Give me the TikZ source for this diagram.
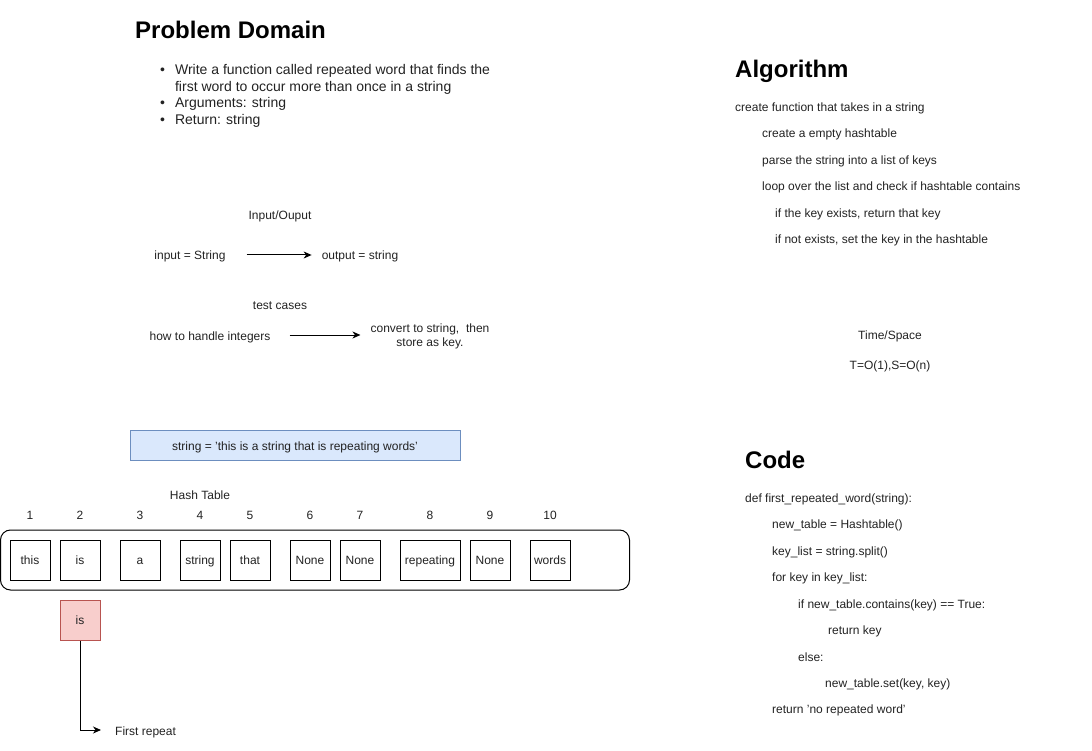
\documentclass[tikz,border=0pt]{standalone}
\usepackage{fontspec}
\setmainfont{Liberation Sans}
\usetikzlibrary{arrows.meta,positioning}
\definecolor{bluefill}{HTML}{DAE8FC}
\definecolor{blueline}{HTML}{6C8EBF}
\definecolor{redfill}{HTML}{F8CECC}
\definecolor{redline}{HTML}{B85450}
\definecolor{ink}{HTML}{222222}
\tikzset{
    txt/.style={font=\fontsize{12}{14}\selectfont, text=ink, inner sep=0pt, text height=13pt, text depth=3pt},
    head/.style={font=\bfseries\fontsize{24}{28}\selectfont, anchor=west, inner sep=0pt},
    line/.style={txt, anchor=west},
    cell/.style={draw, line width=1pt, minimum height=40pt, inner sep=0pt, text height=11pt, text depth=3pt,
        font=\fontsize{12}{14}\selectfont, text=ink},
    arr/.style={-{Stealth[length=8pt,width=7pt,inset=2.5pt]}, line width=1pt},
}
\begin{document}
\begin{tikzpicture}[x=1pt,y=-1pt]
    \useasboundingbox (0,0) rectangle (1092,751);

    \node[head] (pd) at (135,30) {Problem Domain};
    \node[anchor=north west, inner sep=0pt, text=ink, font=\fontsize{14}{16.5}\selectfont] (bul) at (160,63)
        {\begin{tabular}{@{}l@{\hspace{10pt}}l@{}}
        \textbullet & Write a function called repeated word that finds the\\
        & first word to occur more than once in a string\\
        \textbullet & Arguments: string\\
        \textbullet & Return: string
        \end{tabular}};

    \node[txt] (io) at (280,215) {Input/Ouput};
    \node[txt] (in) at (190,255) {input = String};
    \node[txt] (out) at (360,255) {output = string};
    \draw[arr, shorten <=21pt, shorten >=10pt] (in) -- (out);

    \node[txt] (tc) at (280,304) {test cases};
    \node[txt] (hi) at (210,335) {how to handle integers};
    \node[txt, align=center, text height=, text depth=] (cv) at (430,336) {convert to string,\ \ then\\store as key.};
    \draw[arr, shorten <=19pt, shorten >=10pt] (hi.east) -- (hi.east -| cv.west);

    \node[draw=blueline, fill=bluefill, line width=1pt, minimum width=330pt, minimum height=30pt, txt] (str) at (295,445)
        {string = 'this is a string that is repeating words'};

    \node[txt] (ht) at (200,494) {Hash Table};
    \node[draw, line width=1pt, rounded corners=10pt, minimum width=629pt, minimum height=60pt] (tbl) at (315,560) {};
    \foreach \i/\x/\w/\t in {1/30/40/this, 2/80/40/is, 3/140/40/a, 4/200/40/string, 5/250/40/that,
        6/310/40/None, 7/360/40/None, 8/430/60/repeating, 9/490/40/None, 10/550/40/words} {
        \node[txt] (n\i) at (\x,514) {\i};
        \node[cell, minimum width=\w pt] (c\i) at (\x,560) {\t};
    }

    \node[cell, minimum width=40pt, fill=redfill, draw=redline] (rep) at (80,620) {is};
    \node[line] (first) at (115,730) {First repeat};
    \draw[arr] (rep.south) |- ([xshift=-14pt]first.west);

    \node[head] (alg) at (735,71) {Algorithm};
    \node[line] (a1) at (735,107) {create function that takes in a string};
    \node[line] (a2) at (762,133) {create a empty hashtable};
    \node[line] (a3) at (762,160) {parse the string into a list of keys};
    \node[line] (a4) at (762,186) {loop over the list and check if hashtable contains};
    \node[line] (a5) at (775,213) {if the key exists, return that key};
    \node[line] (a6) at (775,239) {if not exists, set the key in the hashtable};

    \node[txt] (ts) at (890,334) {Time/Space};
    \node[txt] (bigo) at (890,364) {T=O(1),S=O(n)};

    \node[head] (code) at (745,460) {Code};
    \node[line] (k1) at (745,497) {def first\_repeated\_word(string):};
    \node[line] (k2) at (772,523) {new\_table = Hashtable()};
    \node[line] (k3) at (772,550) {key\_list = string.split()};
    \node[line] (k4) at (772,576) {for key in key\_list:};
    \node[line] (k5) at (798,603) {if new\_table.contains(key) == True:};
    \node[line] (k6) at (828,629) {return key};
    \node[line] (k7) at (798,656) {else:};
    \node[line] (k8) at (825,682) {new\_table.set(key, key)};
    \node[line] (k9) at (772,708) {return 'no repeated word'};
\end{tikzpicture}
\end{document}
